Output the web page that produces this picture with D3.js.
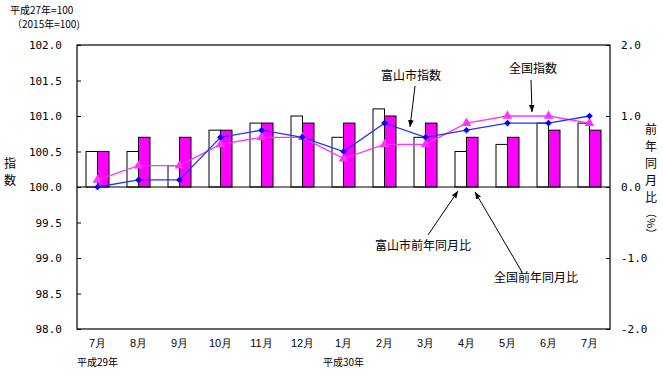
<!DOCTYPE html>
<html>
<head>
<meta charset="utf-8">
<script src="https://cdn.jsdelivr.net/npm/d3@7"></script>
<style>
  body { margin: 0; background: #fff; }
  svg { display: block; font-family: "Noto Sans CJK JP", sans-serif; }
  .num { font-family: "DejaVu Sans Mono", monospace; }
</style>
</head>
<body>
<svg id="chart" width="663" height="377"></svg>
<script>
// months (H29.7 - H30.7)
var months = ["7月", "8月", "9月", "10月", "11月", "12月", "1月", "2月", "3月", "4月", "5月", "6月", "7月"];
var eraLabels = [{i: 0, t: "平成29年"}, {i: 6, t: "平成30年"}];

// indices (left axis, 2015=100)
var cityIndex = [100.0, 100.1, 100.1, 100.7, 100.8, 100.7, 100.5, 100.9, 100.7, 100.8, 100.9, 100.9, 101.0];
var natIndex  = [100.1, 100.3, 100.3, 100.6, 100.7, 100.7, 100.4, 100.6, 100.6, 100.9, 101.0, 101.0, 100.9];

// year-on-year change, % (right axis)
var cityYoY = [0.5, 0.5, 0.3, 0.8, 0.9, 1.0, 0.7, 1.1, 0.7, 0.5, 0.6, 0.9, 0.9];
var natYoY  = [0.5, 0.7, 0.7, 0.8, 0.9, 0.9, 0.9, 1.0, 0.9, 0.7, 0.7, 0.8, 0.8];

var leftTicks = [98.0, 98.5, 99.0, 99.5, 100.0, 100.5, 101.0, 101.5, 102.0];
var rightTicks = [-2.0, -1.0, 0.0, 1.0, 2.0];

var svg = d3.select("svg#chart"),
  margin = {top: 45, right: 53, bottom: 48, left: 77},
  width = 663 - margin.left - margin.right,
  height = 377 - margin.top - margin.bottom;

var idx = d3.range(months.length);
var x = d3.scaleBand().domain(idx).range([0, width]);
var xb = d3.scaleBand().domain(["city", "nat"]).range([0, 23]);
var yL = d3.scaleLinear().domain([98, 102]).range([height, 0]);
var yR = d3.scaleLinear().domain([-2, 2]).range([height, 0]);
var off = (x.bandwidth() - 23) / 2;

var g = svg.append("g")
  .attr("transform", "translate(" + margin.left + "," + margin.top + ")");

// bars
var barData = [];
idx.forEach(function(i) {
  barData.push({i: i, k: "city", v: cityYoY[i]});
  barData.push({i: i, k: "nat", v: natYoY[i]});
});
g.selectAll(".bar")
  .data(barData)
  .enter().append("rect")
  .attr("class", "bar")
  .attr("x", function(d) { return x(d.i) + off + xb(d.k); })
  .attr("width", xb.bandwidth())
  .attr("y", function(d) { return yR(Math.max(0, d.v)); })
  .attr("height", function(d) { return Math.abs(yR(d.v) - yR(0)); })
  .attr("fill", function(d) { return d.k == "city" ? "#fff" : "#ff00ff"; })
  .attr("stroke", "#000")
  .attr("stroke-width", 1);

// frame and zero line
g.append("rect")
  .attr("width", width).attr("height", height)
  .attr("fill", "none").attr("stroke", "#000").attr("stroke-width", 1.2);
g.append("line")
  .attr("x1", 0).attr("x2", width)
  .attr("y1", yR(0)).attr("y2", yR(0))
  .attr("stroke", "#000").attr("stroke-width", 1.2);

// lines
var cx = function(d, i) { return x(i) + x.bandwidth() / 2; };
var idxLine = d3.line().x(cx).y(function(d) { return yL(d); });

g.append("path")
  .datum(natIndex)
  .attr("fill", "none").attr("stroke", "#ff33ff").attr("stroke-width", 1.3)
  .attr("d", idxLine);
g.append("path")
  .datum(cityIndex)
  .attr("fill", "none").attr("stroke", "#2233ff").attr("stroke-width", 1.3)
  .attr("d", idxLine);

g.selectAll(".tri")
  .data(natIndex)
  .enter().append("path")
  .attr("class", "tri")
  .attr("transform", function(d, i) { return "translate(" + cx(d, i) + "," + yL(d) + ")"; })
  .attr("d", d3.symbol().type(d3.symbolTriangle).size(40))
  .attr("fill", "#ff33ff");
g.selectAll(".dia")
  .data(cityIndex)
  .enter().append("path")
  .attr("class", "dia")
  .attr("transform", function(d, i) { return "translate(" + cx(d, i) + "," + yL(d) + ") rotate(45)"; })
  .attr("d", d3.symbol().type(d3.symbolSquare).size(22))
  .attr("fill", "#0000ff");

// axes
var axL = g.append("g")
  .call(d3.axisLeft(yL).tickValues(leftTicks).tickSizeInner(-4).tickSizeOuter(0).tickPadding(15)
    .tickFormat(function(d) { return d.toFixed(1); }));
var axR = g.append("g")
  .attr("transform", "translate(" + width + ",0)")
  .call(d3.axisRight(yR).tickValues(rightTicks).tickSizeInner(-4).tickSizeOuter(0).tickPadding(11)
    .tickFormat(function(d) { return d.toFixed(1); }));
[axL, axR].forEach(function(a) {
  a.select(".domain").remove();
  a.selectAll("text").attr("class", "num").style("font-size", "11px").attr("fill", "#000");
  a.selectAll("line").attr("stroke", "#000");
});

var axB = g.append("g")
  .attr("transform", "translate(0," + height + ")")
  .call(d3.axisBottom(x).tickSize(0).tickPadding(10).tickFormat(function(i) { return months[i]; }));
axB.select(".domain").remove();
axB.selectAll("text").style("font-size", "11px").attr("fill", "#000");

g.selectAll(".era")
  .data(eraLabels)
  .enter().append("text")
  .attr("x", function(d) { return x(d.i) + x.bandwidth() / 2; })
  .attr("y", height + 37)
  .attr("text-anchor", "middle")
  .style("font-size", "10px")
  .text(function(d) { return d.t; });

// titles
svg.append("text").attr("x", 10).attr("y", 14).style("font-size", "10px").text("平成27年=100");
svg.append("text").attr("x", 12).attr("y", 28).style("font-size", "10px").text("（2015年=100)");

svg.append("g").selectAll("text")
  .data(["指", "数"])
  .enter().append("text")
  .attr("x", 10).attr("y", function(d, i) { return 168 + i * 17; })
  .attr("text-anchor", "middle")
  .style("font-size", "12px")
  .text(function(d) { return d; });

svg.append("g").selectAll("text")
  .data(["前", "年", "同", "月", "比"])
  .enter().append("text")
  .attr("x", 651).attr("y", function(d, i) { return 134 + i * 17; })
  .attr("text-anchor", "middle")
  .style("font-size", "12px")
  .text(function(d) { return d; });
svg.append("text")
  .attr("transform", "translate(647,207) rotate(90)")
  .style("font-size", "11px")
  .text("（%）");

// annotations
var defs = svg.append("defs");
defs.append("marker")
  .attr("id", "ah").attr("viewBox", "0 0 10 10")
  .attr("refX", 10).attr("refY", 5)
  .attr("markerWidth", 7).attr("markerHeight", 7)
  .attr("orient", "auto")
  .append("path").attr("d", "M0,1 L10,5 L0,9 Z").attr("fill", "#000");

var notes = [
  {t: "富山市指数", tx: 411, ty: 80, x1: 415, y1: 86, x2: 410, y2: 127},
  {t: "全国指数", tx: 533, ty: 73, x1: 531, y1: 80, x2: 532, y2: 112},
  {t: "富山市前年同月比", tx: 423, ty: 250, x1: 428, y1: 235, x2: 458, y2: 191},
  {t: "全国前年同月比", tx: 536, ty: 282, x1: 522, y1: 272, x2: 475, y2: 192}
];
svg.selectAll(".note")
  .data(notes)
  .enter().append("text")
  .attr("x", function(d) { return d.tx; })
  .attr("y", function(d) { return d.ty; })
  .attr("text-anchor", "middle")
  .style("font-size", "12px")
  .text(function(d) { return d.t; });
svg.selectAll(".arrow")
  .data(notes)
  .enter().append("line")
  .attr("x1", function(d) { return d.x1; }).attr("y1", function(d) { return d.y1; })
  .attr("x2", function(d) { return d.x2; }).attr("y2", function(d) { return d.y2; })
  .attr("stroke", "#000").attr("stroke-width", 1)
  .attr("marker-end", "url(#ah)");
</script>
</body>
</html>
